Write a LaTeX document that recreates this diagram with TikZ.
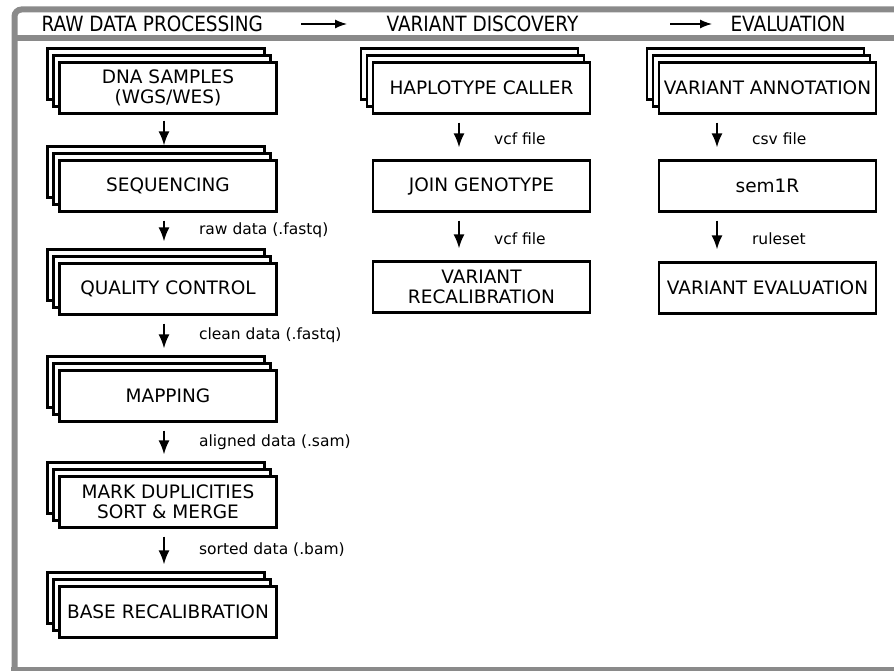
\documentclass[tikz,border=0pt]{standalone}
\usepackage{fontspec}
\setmainfont{DejaVu Sans}
\newfontfamily\hdrfamily{DejaVu Sans}[FakeStretch=0.88]
\usetikzlibrary{arrows.meta,shadows,positioning,calc}
\definecolor{framegray}{HTML}{8A8A8A}
\newcommand{\boxfont}{\fontsize{18.5}{20.5}\selectfont}
\newcommand{\notefont}{\fontsize{15.5}{18}\selectfont}
\newcommand{\hdrfont}{\hdrfamily\fontsize{21}{24}\selectfont}

\begin{document}
\begin{tikzpicture}[x=1pt,y=-1pt,
  frame/.style={draw=framegray,line width=6pt},
  stepbox/.style={draw=black,line width=2.4pt,fill=white,minimum width=217pt,
    minimum height=51pt,inner sep=0pt,align=center,font=\boxfont},
  stack/.style={stepbox,double copy shadow={shadow xshift=-6pt,shadow yshift=7pt}},
  flow/.style={-{Latex[length=14pt,width=11pt]},line width=1.5pt,
    shorten <=8pt,shorten >=12pt},
  tostack/.style={shorten >=21pt},
  note/.style={midway,anchor=west,xshift=31pt,yshift=-2pt,font=\notefont},
  notel/.style={note,yshift=9pt},
  hdr/.style={anchor=west,font=\hdrfont},
  hdrarrow/.style={-{Latex[length=12pt,width=9pt]},line width=1.3pt}]
\clip (0,0) rectangle (894,671);
% outer frame and header band
\draw[frame] (11,669.5) -- (930,669.5);
\draw[frame,rounded corners=7pt] (14.5,671) -- (14.5,9.5) -- (930,9.5);
\draw[frame] (14.5,38.5) -- (930,38.5);
% header
\node[hdr] (raw) at (38,23.5) {RAW DATA PROCESSING};
\node[hdr] (disc) at (383,23.5) {VARIANT DISCOVERY};
\node[hdr] (eval) at (727,23.5) {EVALUATION};
\coordinate (h1a) at (301,24);
\coordinate (h1b) at (347,24);
\coordinate (h2a) at (670,24);
\coordinate (h2b) at (712,24);
\draw[hdrarrow] (h1a) -- (h1b);
\draw[hdrarrow] (h2a) -- (h2b);
% raw data processing
\node[stack] (dna) at (168,88) {DNA SAMPLES\\(WGS/WES)};
\node[stack] (seq) at (168,186) {SEQUENCING};
\node[stack] (qc) at (168,289) {QUALITY CONTROL};
\node[stack] (map) at (168,396) {MAPPING};
\node[stack] (mark) at (168,502) {MARK DUPLICITIES\\SORT \& MERGE};
\node[stack] (base) at (168,612) {BASE RECALIBRATION};
% variant discovery
\node[stack] (hap) at (481.5,88) {HAPLOTYPE CALLER};
\node[stepbox] (join) at (481.5,186) {JOIN GENOTYPE};
\node[stepbox] (vrec) at (481.5,287) {VARIANT\\RECALIBRATION};
% evaluation
\node[stack] (ann) at (767.5,88) {VARIANT ANNOTATION};
\node[stepbox] (sem) at (767.5,186) {sem1R};
\node[stepbox] (veval) at (767.5,288) {VARIANT EVALUATION};
% arrow columns
\coordinate (colA) at (164,0);
\coordinate (colB) at (459,0);
\coordinate (colC) at (717,0);
\draw[flow,shorten <=6pt,shorten >=14pt] (dna.south -| colA) -- (seq.north -| colA);
\draw[flow,tostack] (seq.south -| colA) -- (qc.north -| colA) node[notel] {raw data (.fastq)};
\draw[flow,tostack] (qc.south -| colA) -- (map.north -| colA) node[notel] {clean data (.fastq)};
\draw[flow,tostack] (map.south -| colA) -- (mark.north -| colA) node[notel] {aligned data (.sam)};
\draw[flow,tostack] (mark.south -| colA) -- (base.north -| colA) node[notel] {sorted data (.bam)};
\draw[flow] (hap.south -| colB) -- (join.north -| colB) node[note] {vcf file};
\draw[flow] (join.south -| colB) -- (vrec.north -| colB) node[note] {vcf file};
\draw[flow] (ann.south -| colC) -- (sem.north -| colC) node[note] {csv file};
\draw[flow] (sem.south -| colC) -- (veval.north -| colC) node[note] {ruleset};
\end{tikzpicture}
\end{document}
